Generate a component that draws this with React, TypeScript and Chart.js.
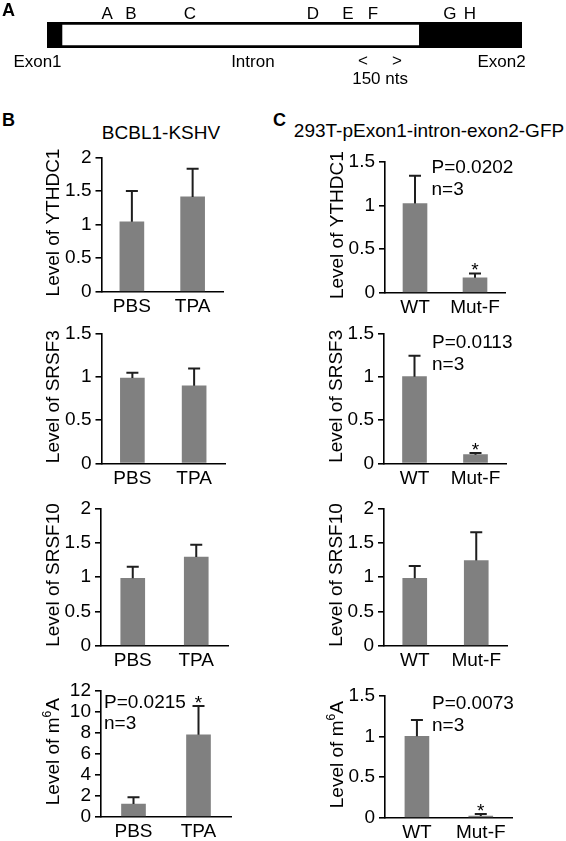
import React, { useEffect, useRef } from 'react';
import { Chart, registerables } from 'chart.js';

Chart.register(...registerables);

const FONT = "'Liberation Sans', Arial, Helvetica, sans-serif";
Chart.defaults.font.family = FONT;
Chart.defaults.font.size = 19;
Chart.defaults.color = '#000';

// ---------- Panel A data ----------
const geneSegments = ['Exon1', 'Intron', 'Exon2'];
const segmentStarts = [0, 66, 1641];
const segmentEnds = [66, 1641, 2095];
const segmentLabelPositions = [-42, 908, 2005];
const siteLabels = ['A', 'B', 'C', 'D', 'E', 'F', 'G', 'H'];
const sitePositions = [265, 370, 630, 1173, 1327, 1438, 1777, 1865];
const scaleBarStart = 1394;
const scaleBarEnd = 1544;
const scaleBarLabel = '150 nts';

// ---------- Panel B / C data ----------
const bCategories = ['PBS', 'TPA'];
const cCategories = ['WT', 'Mut-F'];

const bYthdc1 = [1.04, 1.41];
const bYthdc1Err = [0.46, 0.42];
const bSrsf3 = [0.99, 0.9];
const bSrsf3Err = [0.06, 0.2];
const bSrsf10 = [0.98, 1.29];
const bSrsf10Err = [0.17, 0.18];
const bM6a = [1.2, 7.8];
const bM6aErr = [0.65, 2.75];

const cYthdc1 = [1.02, 0.17];
const cYthdc1Err = [0.32, 0.05];
const cSrsf3 = [1.0, 0.1];
const cSrsf3Err = [0.24, 0.02];
const cSrsf10 = [0.98, 1.24];
const cSrsf10Err = [0.18, 0.41];
const cM6a = [1.0, 0.02];
const cM6aErr = [0.2, 0.025];

const BAR_COLOR = '#808080';
const ERR_COLOR = '#1e1e1e';

type Spec = {
  canvasLeft: number;
  canvasWidth: number;
  axisX: number;
  xEnd: number;
  yZero: number;
  yTop: number;
  max: number;
  step: number;
  labels: string[];
  values: number[];
  errors: number[];
  stars: boolean[];
  title: string;
  notes?: string[];
  noteX?: number;
  noteY?: number[];
};

const specs: Spec[] = [
  { canvasLeft: 0, canvasWidth: 283, axisX: 101.5, xEnd: 223, yZero: 291.7, yTop: 157.3, max: 2, step: 0.5,
    labels: bCategories, values: bYthdc1, errors: bYthdc1Err, stars: [false, false], title: 'Level of YTHDC1' },
  { canvasLeft: 0, canvasWidth: 283, axisX: 101.5, xEnd: 225, yZero: 463.3, yTop: 334, max: 1.5, step: 0.5,
    labels: bCategories, values: bSrsf3, errors: bSrsf3Err, stars: [false, false], title: 'Level of SRSF3' },
  { canvasLeft: 0, canvasWidth: 283, axisX: 101, xEnd: 228, yZero: 645.7, yTop: 508.3, max: 2, step: 0.5,
    labels: bCategories, values: bSrsf10, errors: bSrsf10Err, stars: [false, false], title: 'Level of SRSF10' },
  { canvasLeft: 0, canvasWidth: 283, axisX: 101, xEnd: 231, yZero: 816.7, yTop: 690.7, max: 12, step: 2,
    labels: bCategories, values: bM6a, errors: bM6aErr, stars: [false, true], title: 'Level of m{6}A',
    notes: ['P=0.0215', 'n=3'], noteX: 104, noteY: [701.7, 723] },
  { canvasLeft: 283, canvasWidth: 283, axisX: 385, xEnd: 505, yZero: 292.7, yTop: 161.7, max: 1.5, step: 0.5,
    labels: cCategories, values: cYthdc1, errors: cYthdc1Err, stars: [false, true], title: 'Level of YTHDC1',
    notes: ['P=0.0202', 'n=3'], noteX: 431.5, noteY: [166.7, 188.3] },
  { canvasLeft: 283, canvasWidth: 283, axisX: 384, xEnd: 506, yZero: 463.3, yTop: 333.3, max: 1.5, step: 0.5,
    labels: cCategories, values: cSrsf3, errors: cSrsf3Err, stars: [false, true], title: 'Level of SRSF3',
    notes: ['P=0.0113', 'n=3'], noteX: 432, noteY: [341.7, 363.3] },
  { canvasLeft: 283, canvasWidth: 283, axisX: 384, xEnd: 507, yZero: 645.7, yTop: 508.3, max: 2, step: 0.5,
    labels: cCategories, values: cSrsf10, errors: cSrsf10Err, stars: [false, false], title: 'Level of SRSF10' },
  { canvasLeft: 283, canvasWidth: 283, axisX: 385, xEnd: 512.7, yZero: 817.7, yTop: 695.7, max: 1.5, step: 0.5,
    labels: cCategories, values: cM6a, errors: cM6aErr, stars: [false, true], title: 'Level of m{6}A',
    notes: ['P=0.0073', 'n=3'], noteX: 432, noteY: [702.7, 725] },
];

function geom(s: Spec) {
  const top = Math.floor(s.yTop - 22);
  const bottom = Math.ceil(s.yZero + 36);
  return { top, height: bottom - top };
}

function drawRotatedTitle(ctx: CanvasRenderingContext2D, title: string, cx: number, cy: number) {
  const parts: { t: string; sup: boolean }[] = [];
  const re = /\{([^}]*)\}/g;
  let last = 0;
  let m: RegExpExecArray | null;
  while ((m = re.exec(title))) {
    if (m.index > last) parts.push({ t: title.slice(last, m.index), sup: false });
    parts.push({ t: m[1], sup: true });
    last = m.index + m[0].length;
  }
  if (last < title.length) parts.push({ t: title.slice(last), sup: false });
  const big = `19px ${FONT}`;
  const small = `12px ${FONT}`;
  let total = 0;
  const widths = parts.map((p) => {
    ctx.font = p.sup ? small : big;
    const w = ctx.measureText(p.t).width;
    total += w;
    return w;
  });
  ctx.save();
  ctx.translate(cx, cy);
  ctx.rotate(-Math.PI / 2);
  ctx.fillStyle = '#000';
  ctx.textBaseline = 'alphabetic';
  ctx.textAlign = 'left';
  let x = -total / 2;
  const baseY = 7;
  parts.forEach((p, i) => {
    ctx.font = p.sup ? small : big;
    ctx.fillText(p.t, x, p.sup ? baseY - 8 : baseY);
    x += widths[i];
  });
  ctx.restore();
}

function buildBarConfig(s: Spec): any {
  const { top, height } = geom(s);
  const padTop = s.yTop - top;
  const padRight = s.canvasLeft + s.canvasWidth - s.xEnd;
  const yWidth = s.axisX - s.canvasLeft;
  const xHeight = top + height - s.yZero;

  const overlay = {
    id: 'overlay',
    afterDatasetsDraw(chart: any) {
      const ctx = chart.ctx as CanvasRenderingContext2D;
      const meta = chart.getDatasetMeta(0);
      const y = chart.scales.y;
      ctx.save();
      ctx.strokeStyle = ERR_COLOR;
      ctx.lineWidth = 2;
      meta.data.forEach((bar: any, i: number) => {
        const v = s.values[i];
        const e = s.errors[i];
        const yb = y.getPixelForValue(v);
        const ye = y.getPixelForValue(v + e);
        ctx.beginPath();
        ctx.moveTo(bar.x, yb);
        ctx.lineTo(bar.x, ye);
        ctx.moveTo(bar.x - 6, ye);
        ctx.lineTo(bar.x + 6, ye);
        ctx.stroke();
        if (s.stars[i]) {
          ctx.fillStyle = '#000';
          ctx.font = `19px ${FONT}`;
          ctx.textAlign = 'center';
          ctx.textBaseline = 'alphabetic';
          ctx.fillText('*', bar.x, ye + 3);
        }
      });
      ctx.restore();
    },
    afterDraw(chart: any) {
      const ctx = chart.ctx as CanvasRenderingContext2D;
      const ca = chart.chartArea;
      const offX = s.canvasLeft;
      drawRotatedTitle(ctx, s.title, ca.left - 49.5, (ca.top + ca.bottom) / 2 - 2);
      if (s.notes && s.noteY && s.noteX !== undefined) {
        ctx.save();
        ctx.fillStyle = '#000';
        ctx.font = `19px ${FONT}`;
        ctx.textAlign = 'left';
        ctx.textBaseline = 'middle';
        s.notes.forEach((n, i) => {
          ctx.fillText(n, s.noteX! - offX, s.noteY![i] - top + 1);
        });
        ctx.restore();
      }
    },
  };

  return {
    type: 'bar',
    data: {
      labels: s.labels,
      datasets: [
        {
          data: s.values,
          backgroundColor: BAR_COLOR,
          borderWidth: 0,
          barThickness: 24,
        },
      ],
    },
    options: {
      animation: false,
      responsive: false,
      maintainAspectRatio: false,
      layout: { padding: { left: 0, right: padRight, top: padTop, bottom: 0 } },
      plugins: { legend: { display: false }, tooltip: { enabled: false }, title: { display: false } },
      scales: {
        x: {
          offset: true,
          grid: { display: false, drawTicks: false },
          border: { display: true, color: '#000', width: 1.6 },
          ticks: { font: { size: 19 }, color: '#000', padding: 4, maxRotation: 0 },
          afterFit: (scale: any) => {
            scale.height = xHeight;
          },
        },
        y: {
          min: 0,
          max: s.max,
          grid: { display: true, drawOnChartArea: false, drawTicks: true, tickLength: 6, color: '#000', lineWidth: 1.6 },
          border: { display: true, color: '#000', width: 1.6 },
          ticks: {
            stepSize: s.step,
            autoSkip: false,
            font: { size: 19 },
            color: '#000',
            padding: 4,
            callback: (value: number) => String(Math.round(value * 100) / 100),
          },
          afterFit: (scale: any) => {
            scale.width = yWidth;
          },
        },
      },
    },
    plugins: [overlay],
  };
}

function buildGeneConfig(): any {
  const labelsPlugin = {
    id: 'geneLabels',
    afterDraw(chart: any) {
      const ctx = chart.ctx as CanvasRenderingContext2D;
      const x = chart.scales.x;
      ctx.save();
      ctx.fillStyle = '#000';
      ctx.font = `17px ${FONT}`;
      ctx.textAlign = 'center';
      ctx.textBaseline = 'middle';
      siteLabels.forEach((l, i) => ctx.fillText(l, x.getPixelForValue(sitePositions[i]), 14));
      geneSegments.forEach((l, i) => ctx.fillText(l, x.getPixelForValue(segmentLabelPositions[i]), 62));
      ctx.fillText('<', x.getPixelForValue(scaleBarStart), 61);
      ctx.fillText('>', x.getPixelForValue(scaleBarEnd), 61);
      ctx.fillText(scaleBarLabel, x.getPixelForValue((scaleBarStart + scaleBarEnd) / 2), 79);
      ctx.restore();
    },
  };
  return {
    type: 'bar',
    data: {
      labels: ['gene'],
      datasets: geneSegments.map((name, i) => ({
        label: name,
        data: [[segmentStarts[i], segmentEnds[i]]],
        backgroundColor: i === 1 ? '#fff' : '#000',
        borderColor: '#000',
        borderWidth: i === 1 ? { top: 3, bottom: 3, left: 0, right: 0 } : 0,
        borderSkipped: false,
        grouped: false,
        barPercentage: 1,
        categoryPercentage: 1,
      })),
    },
    options: {
      indexAxis: 'y',
      animation: false,
      responsive: false,
      layout: { padding: { left: 47, right: 44, top: 22, bottom: 47 } },
      plugins: { legend: { display: false }, tooltip: { enabled: false } },
      scales: {
        x: { type: 'linear', display: false, min: 0, max: 2095 },
        y: { display: false },
      },
    },
    plugins: [labelsPlugin],
  };
}

function ChartBox(props: { left: number; top: number; width: number; height: number; build: () => any }) {
  const ref = useRef<HTMLCanvasElement>(null);
  useEffect(() => {
    const chart = new Chart(ref.current as HTMLCanvasElement, props.build());
    return () => chart.destroy();
  }, []);
  return (
    <canvas
      ref={ref}
      width={props.width}
      height={props.height}
      style={{ position: 'absolute', left: props.left, top: props.top, width: props.width, height: props.height }}
    />
  );
}

const panelLetter: React.CSSProperties = {
  position: 'absolute',
  fontFamily: FONT,
  fontWeight: 'bold',
  fontSize: 18,
  lineHeight: 1,
  color: '#000',
};

const heading: React.CSSProperties = {
  position: 'absolute',
  fontFamily: FONT,
  fontSize: 19,
  lineHeight: 1,
  color: '#000',
  textAlign: 'center',
  whiteSpace: 'nowrap',
};

export default function App() {
  return (
    <div style={{ position: 'absolute', left: 0, top: 0, width: 566, height: 841, background: '#fff', overflow: 'hidden' }}>
      <ChartBox left={0} top={0} width={566} height={95} build={buildGeneConfig} />
      <div style={{ ...panelLetter, left: 2, top: 1 }}>A</div>
      <div style={{ ...panelLetter, left: 2, top: 111 }}>B</div>
      <div style={{ ...panelLetter, left: 273, top: 111 }}>C</div>
      <div style={{ ...heading, left: 61, top: 123, width: 200 }}>BCBL1-KSHV</div>
      <div style={{ ...heading, left: 279, top: 121, width: 300 }}>293T-pExon1-intron-exon2-GFP</div>
      {specs.map((s, i) => {
        const g = geom(s);
        return (
          <ChartBox key={i} left={s.canvasLeft} top={g.top} width={s.canvasWidth} height={g.height} build={() => buildBarConfig(s)} />
        );
      })}
    </div>
  );
}
